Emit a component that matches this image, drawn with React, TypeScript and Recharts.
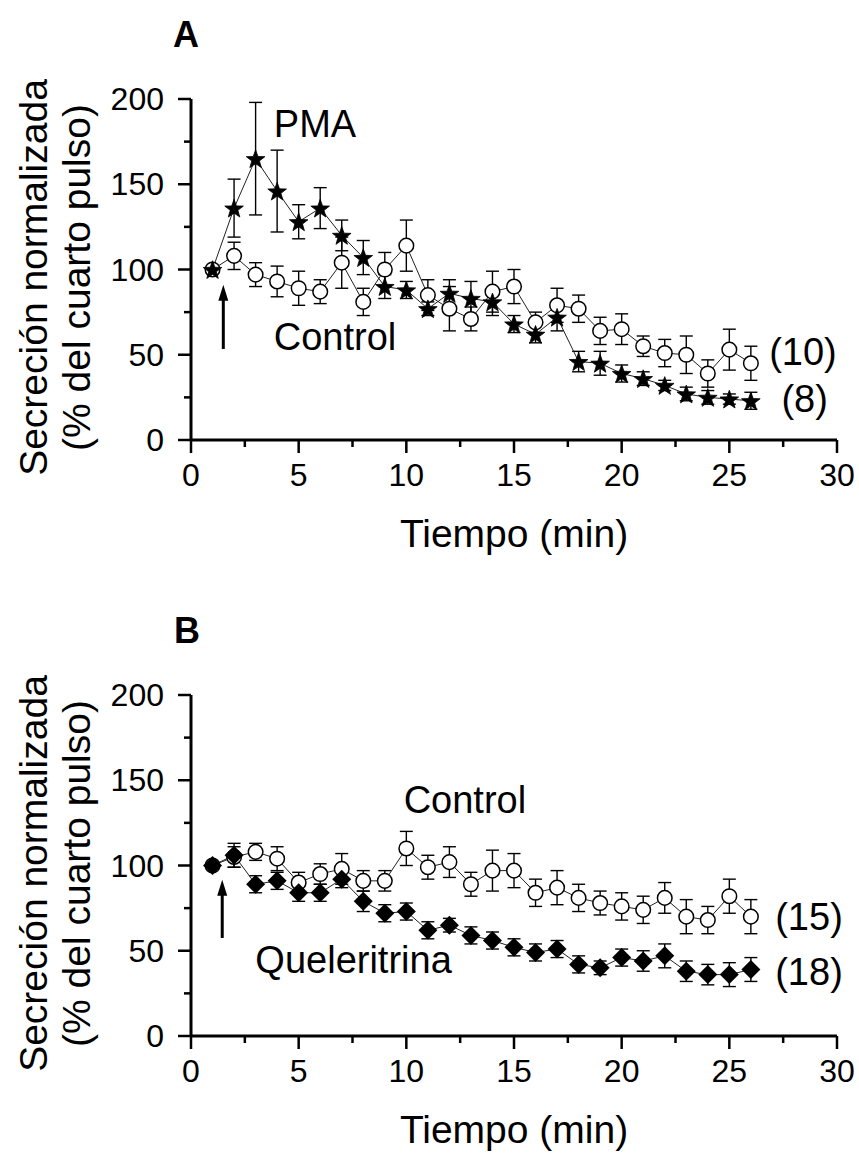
import {
  ComposedChart,
  Line,
  XAxis,
  YAxis,
  ErrorBar,
  ReferenceDot,
  ReferenceLine,
} from "recharts";

const FONT = "'Liberation Sans', Arial, Helvetica, sans-serif";

// time points (min)
const tiempo = [1, 2, 3, 4, 5, 6, 7, 8, 9, 10, 11, 12, 13, 14, 15, 16, 17, 18, 19, 20, 21, 22, 23, 24, 25, 26];

// panel A
const pmaA = [100, 136, 165, 146, 128, 136, 120, 107, 90, 88, 77, 86, 83, 81, 68, 62, 72, 46, 45, 39, 36, 32, 27, 25, 24, 23];
const pmaErrA = [0, 17, 33, 24, 10, 12, 9, 10, 7, 5, 4, 8, 10, 8, 5, 5, 8, 6, 7, 5, 4, 3, 4, 4, 3, 5];
const controlA = [100, 108, 97, 93, 89, 87, 104, 81, 100, 114, 85, 77, 71, 87, 90, 69, 79, 77, 64, 65, 55, 51, 50, 39, 53, 45];
const controlErrA = [0, 8, 7, 9, 10, 7, 15, 8, 10, 15, 9, 13, 7, 12, 10, 6, 10, 8, 8, 9, 6, 8, 11, 8, 12, 10];

// panel B
const queleritrinaB = [100, 106, 89, 91, 84, 84, 92, 79, 72, 73, 62, 65, 59, 56, 52, 49, 51, 42, 40, 46, 44, 47, 38, 36, 36, 39];
const queleritrinaErrB = [0, 7, 5, 5, 5, 5, 5, 6, 5, 5, 5, 4, 5, 5, 5, 5, 5, 5, 4, 5, 6, 7, 6, 6, 7, 7];
const controlB = [100, 105, 108, 104, 90, 95, 98, 91, 91, 110, 99, 102, 89, 97, 97, 84, 87, 81, 78, 76, 74, 81, 70, 68, 82, 70];
const controlErrB = [0, 6, 5, 7, 6, 6, 9, 6, 6, 10, 7, 9, 7, 12, 10, 8, 10, 8, 7, 8, 8, 9, 10, 8, 10, 10];

const xTicks = [0, 2.5, 5, 7.5, 10, 12.5, 15, 17.5, 20, 22.5, 25, 27.5, 30];
const yTicks = [0, 25, 50, 75, 100, 125, 150, 175, 200];

const dataA = tiempo.map((t, i) => ({
  t,
  control: controlA[i],
  controlErr: controlErrA[i],
  treat: pmaA[i],
  treatErr: pmaErrA[i],
}));

const dataB = tiempo.map((t, i) => ({
  t,
  control: controlB[i],
  controlErr: controlErrB[i],
  treat: queleritrinaB[i],
  treatErr: queleritrinaErrB[i],
}));

function XTick(props: any) {
  const { x, y, payload } = props;
  const major = payload.value % 5 === 0;
  return (
    <g>
      <line x1={x} y1={y} x2={x} y2={y + (major ? 13 : 7)} stroke="#000" strokeWidth={2.5} />
      {major && (
        <text x={x} y={y + 46} textAnchor="middle" fontSize={32} fontFamily={FONT} fill="#000">
          {payload.value}
        </text>
      )}
    </g>
  );
}

function YTick(props: any) {
  const { x, y, payload } = props;
  const major = payload.value % 50 === 0;
  return (
    <g>
      <line x1={x - (major ? 13 : 7)} y1={y} x2={x} y2={y} stroke="#000" strokeWidth={2.5} />
      {major && (
        <text x={x - 27} y={y + 11} textAnchor="end" fontSize={32} fontFamily={FONT} fill="#000">
          {payload.value}
        </text>
      )}
    </g>
  );
}

function YTitle(props: any) {
  const vb = props.viewBox || { y: 99, height: 341 };
  const cy = vb.y + vb.height / 2 + 8;
  const style = { fontSize: 39, fontFamily: FONT, fill: "#000" };
  return (
    <g>
      <text transform={`translate(47, ${cy}) rotate(-90)`} textAnchor="middle" {...style}>
        Secreción normalizada
      </text>
      <text transform={`translate(90, ${cy}) rotate(-90)`} textAnchor="middle" {...style}>
        (% del cuarto pulso)
      </text>
    </g>
  );
}

const openCircle = (p: any) => (
  <circle key={`c${p.index}`} cx={p.cx} cy={p.cy} r={7.3} fill="#fff" stroke="#000" strokeWidth={1.5} />
);

const star = (p: any) => {
  const pts = [];
  for (let k = 0; k < 10; k++) {
    const r = k % 2 === 0 ? 9.8 : 4;
    const a = -Math.PI / 2 + (k * Math.PI) / 5;
    pts.push(`${p.cx + r * Math.cos(a)},${p.cy + 1 + r * Math.sin(a)}`);
  }
  return <polygon key={`s${p.index}`} points={pts.join(" ")} fill="#000" stroke="#000" strokeWidth={0.8} />;
};

const diamond = (p: any) => (
  <polygon
    key={`d${p.index}`}
    points={`${p.cx},${p.cy - 9.5} ${p.cx + 9.5},${p.cy} ${p.cx},${p.cy + 9.5} ${p.cx - 9.5},${p.cy}`}
    fill="#000"
  />
);

const note = (txt: string) => (p: any) => (
  <text x={p.cx} y={p.cy} textAnchor="middle" fontSize={38} fontFamily={FONT} fill="#000">
    {txt}
  </text>
);

const arrow = (p: any) => {
  const x = p.x1;
  const top = Math.min(p.y1, p.y2);
  const bottom = Math.max(p.y1, p.y2);
  return (
    <g>
      <line x1={x} y1={bottom} x2={x} y2={top + 12} stroke="#000" strokeWidth={3} />
      <polygon points={`${x},${top} ${x - 5},${top + 16} ${x + 5},${top + 16}`} fill="#000" />
    </g>
  );
};

type Note = { x: number; y: number; text: string };

function Panel({
  data,
  treatDot,
  notes,
  arrowX,
  arrowY,
}: {
  data: any[];
  treatDot: (p: any) => any;
  notes: Note[];
  arrowX: number;
  arrowY: [number, number];
}) {
  return (
    <ComposedChart width={859} height={557} data={data} margin={{ top: 99, right: 22, bottom: 0, left: 0 }}>
      <XAxis
        dataKey="t"
        type="number"
        domain={[0, 30]}
        ticks={xTicks}
        interval={0}
        tick={<XTick />}
        tickLine={false}
        tickSize={0}
        tickMargin={0}
        height={117}
        stroke="#000"
        strokeWidth={3}
        axisLine={{ stroke: "#000", strokeWidth: 3 }}
        label={{
          value: "Tiempo (min)",
          position: "insideBottom",
          offset: 10,
          fontSize: 39,
          fontFamily: FONT,
          fill: "#000",
        }}
      />
      <YAxis
        type="number"
        domain={[0, 200]}
        ticks={yTicks}
        interval={0}
        tick={<YTick />}
        tickLine={false}
        tickSize={0}
        tickMargin={0}
        width={191}
        stroke="#000"
        strokeWidth={3}
        axisLine={{ stroke: "#000", strokeWidth: 3 }}
        label={<YTitle />}
      />
      <Line dataKey="control" stroke="#222" strokeWidth={1} dot={openCircle} activeDot={false} isAnimationActive={false}>
        <ErrorBar dataKey="controlErr" width={6.5} stroke="#000" strokeWidth={1.4} />
      </Line>
      <Line dataKey="treat" stroke="#222" strokeWidth={1} dot={treatDot} activeDot={false} isAnimationActive={false}>
        <ErrorBar dataKey="treatErr" width={6.5} stroke="#000" strokeWidth={1.4} />
      </Line>
      <ReferenceLine
        segment={[
          { x: arrowX, y: arrowY[0] },
          { x: arrowX, y: arrowY[1] },
        ]}
        shape={arrow}
      />
      {notes.map((n) => (
        <ReferenceDot key={n.text} x={n.x} y={n.y} r={0} shape={note(n.text)} />
      ))}
    </ComposedChart>
  );
}

const notesA: Note[] = [
  { x: 5.76, y: 177.7, text: "PMA" },
  { x: 6.69, y: 52.8, text: "Control" },
  { x: 28.42, y: 44, text: "(10)" },
  { x: 28.5, y: 16.4, text: "(8)" },
];

const notesB: Note[] = [
  { x: 12.72, y: 131, text: "Control" },
  { x: 7.55, y: 36.8, text: "Queleritrina" },
  { x: 28.7, y: 62, text: "(15)" },
  { x: 28.7, y: 29.8, text: "(18)" },
];

export default function App() {
  return (
    <div
      style={{
        position: "absolute",
        left: 0,
        top: 0,
        width: 859,
        height: 1153,
        overflow: "hidden",
        background: "#fff",
      }}
    >
      <svg width={859} height={1153} style={{ position: "absolute", left: 0, top: 0 }}>
        <text x={186} y={47} textAnchor="middle" fontSize={36} fontWeight="bold" fontFamily={FONT}>
          A
        </text>
        <text x={187} y={643} textAnchor="middle" fontSize={36} fontWeight="bold" fontFamily={FONT}>
          B
        </text>
      </svg>
      <div style={{ position: "absolute", left: 0, top: 0 }}>
        <Panel data={dataA} treatDot={star} notes={notesA} arrowX={1.5} arrowY={[53.4, 91]} />
      </div>
      <div style={{ position: "absolute", left: 0, top: 596 }}>
        <Panel data={dataB} treatDot={diamond} notes={notesB} arrowX={1.45} arrowY={[57.5, 91.6]} />
      </div>
    </div>
  );
}
